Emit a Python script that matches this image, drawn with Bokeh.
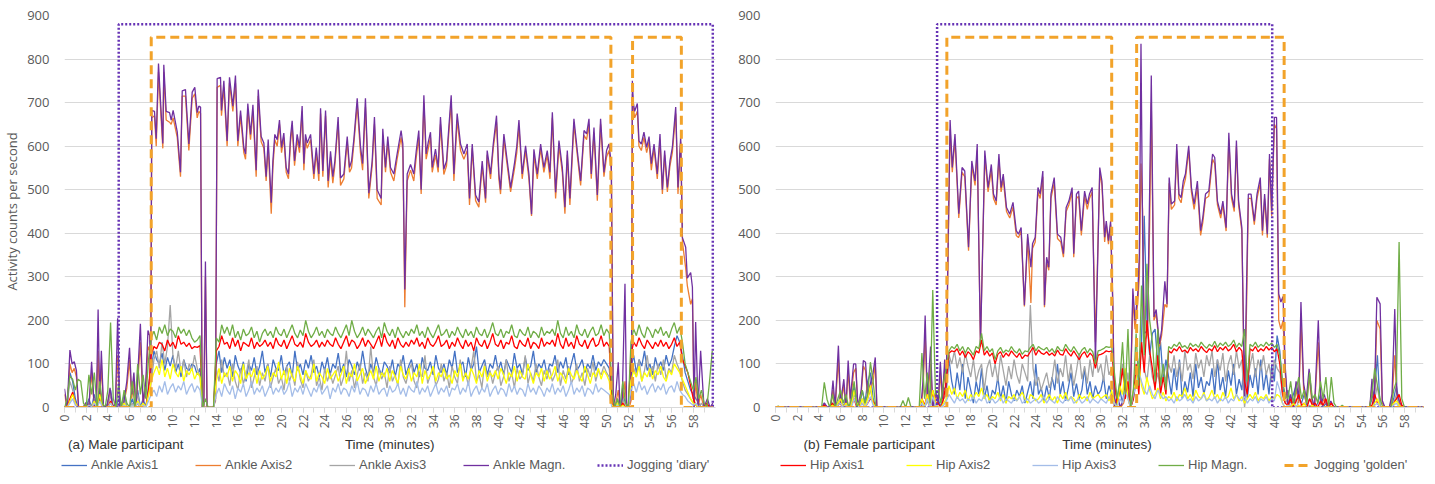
import math
from bokeh.plotting import figure
from bokeh.layouts import row, column
from bokeh.models import Range1d, FixedTicker, Legend, LegendItem
from bokeh.embed import file_html
from bokeh.resources import INLINE

# ---------------- time axis for the per-epoch series (minutes) ----------------
grid_t = [i * 0.25 for i in range(240)]

# ================= (a) MALE PARTICIPANT =================
male_magn_t = [
    0, 0.25, 0.5, 0.7, 0.9, 1.1, 1.3, 1.7, 2.0, 2.25,
    2.5, 2.75, 2.95, 3.1, 3.25, 3.4, 3.6, 3.9, 4.2, 4.45,
    4.7, 4.9, 5.1, 5.4, 5.75, 6.0, 6.2, 6.4, 6.6, 7.0,
    7.25, 7.5, 7.7, 7.85, 7.95,
    8.05, 8.3, 8.46, 8.67, 9.07, 9.16, 9.38, 9.69, 9.84, 10.02,
    10.4, 10.7, 10.86, 11.16, 11.47, 11.78, 12.02, 12.24, 12.39, 12.55,
    12.7, 12.85, 13.0, 13.15, 13.7, 13.93,
    14.08, 14.39, 14.48, 14.7, 15.0, 15.22, 15.53, 15.77, 15.99, 16.24,
    16.54, 16.7, 16.91, 17.16, 17.38, 17.68, 17.87, 18.14, 18.39, 18.6,
    18.79, 19.07, 19.22, 19.4, 19.62, 19.83, 20.02, 20.23, 20.45, 20.66,
    20.85, 21.0, 21.22, 21.46, 21.68, 21.92, 22.08, 22.23, 22.39, 22.7,
    23.0, 23.22, 23.46, 23.62, 23.83, 24.08, 24.32, 24.54, 24.75, 24.94,
    25.24, 25.46, 25.77, 26.08, 26.29, 26.48, 26.69, 27.0, 27.3, 27.5,
    27.76, 28.07, 28.38, 28.59, 28.84, 29.21, 29.36, 29.61, 29.82,
    30.07, 30.38, 30.68, 31.05, 31.21, 31.39, 31.61, 31.92, 32.22, 32.45,
    32.68, 32.9, 33.15, 33.36, 33.56, 33.76, 33.92, 34.22, 34.47, 34.68,
    34.99, 35.24, 35.45, 35.67, 35.92, 36.22, 36.53, 36.84, 37.15, 37.36,
    37.61, 37.92, 38.22, 38.53, 38.84, 38.99, 39.3, 39.55, 39.85, 40.07,
    40.22, 40.53, 40.84, 41.15, 41.52, 41.72, 41.92, 42.22, 42.53, 42.84,
    43.08, 43.3, 43.61, 43.92, 44.22, 44.53, 44.78, 45.0, 45.3, 45.61,
    45.92, 46.16, 46.38, 46.62, 46.99, 47.3, 47.61, 47.92, 48.16, 48.38,
    48.59, 48.84, 49.15, 49.45, 49.76, 50.0,
    50.22, 50.44, 50.62, 50.85, 51.08, 51.24, 51.45, 51.7, 51.85, 52.1,
    52.3, 52.38, 52.47, 52.59, 52.84, 52.99, 53.21, 53.45, 53.7, 53.92,
    54.13, 54.38, 54.68, 54.93, 55.15, 55.36, 55.61, 55.85, 56.07, 56.38,
    56.59, 56.84, 57.0, 57.3, 57.45, 57.76, 57.92, 58.07, 58.22, 58.44,
    58.68, 58.99, 59.3, 59.55, 59.8,
]
male_ankle_magn = [
    43, 0, 132, 100, 105, 85, 0, 0, 12, 0,
    105, 0, 20, 225, 15, 130, 0, 0, 45, 0,
    10, 205, 0, 0, 60, 137, 30, 80, 0, 192,
    10, 60, 177, 165, 60,
    682, 680, 617, 790, 606, 787, 680, 677, 660, 682,
    633, 540, 727, 730, 605, 724, 735, 677, 692, 690,
    0, 0, 335, 0, 0, 20,
    755, 758, 682, 750, 612, 758, 692, 762, 612, 682,
    597, 582, 698, 627, 695, 545, 730, 622, 607, 530,
    615, 470, 565, 627, 615, 660, 597, 630, 551, 536,
    622, 658, 566, 627, 597, 692, 560, 627, 607, 627,
    536, 597, 536, 687, 543, 682, 520, 588, 530, 566,
    667, 527, 536, 622, 551, 566, 615, 710, 600, 560,
    710, 492, 566, 667, 500, 480, 640, 551, 622,
    551, 536, 582, 636, 605, 271, 536, 558, 536, 590,
    636, 500, 717, 582, 610, 632, 551, 593, 551, 667,
    547, 566, 643, 717, 536, 675, 605, 582, 605, 480,
    605, 488, 472, 566, 480, 590, 536, 605, 670, 536,
    500, 628, 566, 505, 563, 600, 660, 536, 601, 536,
    444, 593, 536, 605, 551, 590, 540, 678, 494, 613,
    551, 460, 590, 480, 663, 590, 520, 636, 628, 663,
    536, 643, 488, 663, 540, 590,
    605, 560, 0, 30, 104, 0, 20, 284, 0, 10,
    40, 750, 700, 680, 698, 612, 605, 632, 597, 622,
    560, 605, 536, 628, 500, 590, 505, 566, 597, 690,
    505, 622, 390, 368, 297, 310, 276, 0, 196, 0,
    130, 0, 20, 0, 10,
]
male_ankle_axis2 = [
    30, 0, 100, 80, 90, 70, 0, 0, 8, 0,
    80, 0, 15, 130, 10, 100, 0, 0, 35, 0,
    8, 120, 0, 0, 45, 110, 20, 60, 0, 150,
    8, 45, 140, 130, 40,
    665, 670, 600, 770, 595, 770, 660, 655, 650, 665,
    620, 530, 715, 715, 590, 710, 720, 665, 680, 675,
    0, 0, 300, 0, 0, 15,
    735, 740, 670, 735, 600, 745, 680, 745, 600, 670,
    585, 570, 685, 615, 680, 530, 715, 610, 595, 520,
    600, 445, 550, 615, 600, 650, 585, 620, 540, 525,
    610, 645, 555, 615, 585, 680, 545, 615, 595, 615,
    525, 585, 520, 675, 530, 670, 505, 575, 515, 555,
    655, 510, 525, 610, 540, 550, 605, 695, 585, 545,
    690, 480, 555, 650, 480, 465, 625, 540, 610,
    540, 520, 570, 620, 590, 230, 520, 545, 520, 575,
    620, 490, 700, 570, 595, 620, 540, 580, 540, 650,
    535, 555, 630, 700, 520, 660, 590, 570, 590, 465,
    595, 475, 460, 555, 470, 580, 525, 595, 655, 525,
    490, 615, 555, 495, 550, 585, 645, 525, 590, 525,
    440, 580, 525, 595, 540, 580, 525, 665, 480, 600,
    540, 445, 580, 465, 650, 580, 510, 625, 615, 650,
    525, 630, 475, 650, 530, 575,
    590, 545, 0, 10, 40, 0, 5, 60, 0, 0,
    20, 720, 690, 665, 680, 600, 590, 620, 585, 610,
    545, 595, 525, 615, 490, 580, 495, 555, 585, 675,
    490, 610, 380, 320, 280, 237, 250, 0, 60, 0,
    30, 0, 5, 0, 0,
]
male_ankle_axis1 = [
    0, 10, 80, 60, 20, 0, 0, 0, 0, 20, 0, 30, 0, 40, 0, 0, 10, 40, 0, 0,
    20, 0, 30, 0, 0, 20, 0, 40, 0, 20, 0, 50, 90, 130, 110, 100, 125, 85, 115, 95,
    120, 80, 100, 70, 110, 90, 85, 100, 95, 75, 90, 0, 0, 0, 0, 0, 100, 130, 80, 115,
    90, 110, 70, 120, 95, 80, 105, 60, 100, 85, 115, 75, 95, 130, 80, 100, 70, 110, 90, 85,
    120, 75, 95, 105, 70, 130, 85, 100, 75, 110, 90, 120, 80, 95, 70, 105, 85, 115, 75, 100,
    90, 125, 80, 100, 70, 110, 95, 75, 105, 85, 130, 90, 70, 100, 80, 115, 90, 75, 105, 95,
    80, 110, 70, 100, 90, 120, 75, 95, 110, 80, 100, 70, 115, 90, 85, 105, 75, 120, 90, 80,
    100, 75, 110, 90, 130, 80, 95, 105, 70, 115, 85, 100, 140, 80, 95, 110, 75, 100, 90, 120,
    85, 105, 75, 110, 95, 80, 125, 90, 100, 75, 115, 85, 95, 130, 80, 100, 90, 110, 75, 100,
    95, 120, 80, 105, 90, 115, 75, 100, 125, 85, 95, 110, 80, 100, 90, 120, 85, 105, 95, 110,
    100, 90, 10, 0, 20, 0, 30, 10, 0, 90, 120, 80, 110, 95, 130, 85, 100, 75, 115, 90,
    105, 85, 120, 95, 110, 140, 165, 150, 120, 80, 60, 40, 30, 20, 10, 0, 5, 0, 0, 0,
]
male_ankle_axis3 = [
    0, 10, 60, 40, 10, 0, 0, 0, 0, 10, 0, 20, 0, 30, 0, 0, 0, 30, 0, 0,
    10, 0, 20, 0, 0, 10, 0, 30, 0, 10, 0, 30, 60, 110, 130, 90, 150, 100, 140, 235,
    120, 90, 130, 80, 110, 70, 100, 85, 120, 90, 70, 0, 0, 0, 0, 0, 90, 60, 110, 70,
    80, 50, 100, 60, 40, 90, 55, 75, 110, 45, 70, 95, 50, 80, 60, 100, 45, 70, 90, 55,
    70, 40, 95, 60, 80, 50, 105, 65, 45, 85, 60, 75, 110, 50, 70, 40, 90, 60, 80, 55,
    75, 95, 50, 70, 130, 60, 85, 45, 75, 100, 55, 80, 60, 140, 70, 50, 90, 65, 80, 45,
    95, 60, 75, 50, 110, 70, 55, 85, 100, 60, 45, 80, 70, 120, 55, 75, 90, 50, 65, 100,
    60, 80, 45, 95, 70, 55, 110, 65, 80, 50, 90, 130, 60, 75, 45, 100, 70, 85, 55, 80,
    95, 50, 70, 110, 60, 80, 45, 90, 65, 75, 120, 55, 80, 60, 100, 70, 50, 85, 65, 90,
    60, 75, 110, 50, 85, 65, 95, 55, 70, 100, 60, 80, 50, 90, 70, 105, 60, 85, 75, 95,
    80, 70, 10, 0, 15, 0, 20, 0, 0, 60, 90, 70, 110, 60, 85, 120, 70, 95, 60, 100,
    75, 110, 65, 90, 80, 120, 100, 85, 60, 40, 30, 20, 10, 5, 0, 10, 0, 0, 0, 0,
]
male_hip_axis1 = [
    0, 0, 20, 35, 10, 0, 0, 0, 0, 5, 0, 10, 0, 30, 0, 0, 0, 15, 0, 0,
    0, 0, 0, 0, 0, 0, 0, 10, 0, 0, 0, 40, 120, 140, 135, 150, 145, 130, 155, 140,
    150, 135, 165, 145, 150, 140, 148, 135, 140, 138, 142, 0, 0, 0, 0, 0, 130, 140, 165, 145,
    150, 135, 160, 140, 155, 130, 150, 145, 140, 160, 135, 150, 140, 145, 155, 140, 150, 135, 160, 145,
    140, 155, 135, 150, 165, 145, 140, 150, 138, 170, 150, 140, 145, 155, 138, 150, 140, 155, 145, 140,
    160, 145, 135, 150, 165, 140, 155, 150, 135, 145, 160, 140, 155, 145, 135, 150, 165, 140, 170, 150,
    140, 155, 135, 160, 145, 138, 150, 140, 155, 145, 160, 140, 150, 135, 160, 145, 140, 150, 165, 140,
    145, 155, 135, 150, 140, 160, 145, 135, 155, 140, 150, 130, 160, 145, 140, 155, 135, 150, 170, 145,
    140, 155, 135, 150, 145, 165, 140, 135, 155, 145, 140, 160, 135, 150, 145, 135, 160, 140, 150, 145,
    155, 140, 170, 145, 135, 160, 140, 150, 135, 165, 145, 140, 155, 135, 150, 160, 140, 145, 165, 140,
    150, 140, 10, 0, 5, 0, 10, 0, 0, 120, 150, 140, 160, 145, 135, 155, 145, 135, 150, 140,
    155, 140, 150, 135, 145, 160, 140, 150, 110, 95, 80, 50, 20, 5, 0, 0, 0, 10, 0, 0,
]
male_hip_axis2 = [
    0, 0, 15, 30, 10, 0, 0, 0, 0, 5, 0, 15, 0, 30, 0, 0, 0, 10, 0, 0,
    0, 0, 10, 0, 0, 5, 0, 15, 0, 10, 0, 30, 60, 80, 95, 75, 110, 70, 90, 65,
    100, 80, 70, 95, 60, 85, 75, 90, 65, 80, 70, 0, 0, 0, 0, 0, 60, 90, 55, 80,
    70, 95, 60, 85, 75, 55, 100, 65, 80, 70, 90, 55, 85, 65, 75, 95, 60, 80, 70, 105,
    65, 85, 55, 90, 70, 60, 95, 75, 55, 85, 70, 65, 100, 60, 80, 70, 55, 90, 65, 75,
    85, 60, 75, 95, 55, 80, 70, 100, 60, 75, 90, 55, 70, 85, 65, 95, 60, 80, 70, 90,
    60, 85, 70, 55, 95, 75, 65, 90, 60, 80, 70, 100, 55, 85, 65, 75, 95, 60, 80, 70,
    90, 65, 75, 55, 85, 70, 100, 60, 80, 65, 90, 75, 55, 85, 70, 95, 60, 80, 70, 85,
    65, 90, 75, 55, 80, 70, 95, 60, 85, 70, 65, 100, 75, 55, 80, 70, 90, 60, 85, 65,
    75, 95, 60, 80, 70, 55, 90, 75, 65, 85, 70, 60, 95, 75, 55, 80, 70, 90, 65, 85,
    75, 60, 5, 0, 10, 0, 5, 0, 0, 60, 85, 70, 95, 60, 80, 70, 90, 65, 85, 75,
    95, 70, 60, 85, 75, 100, 90, 80, 65, 50, 35, 20, 10, 5, 0, 0, 0, 0, 0, 0,
]
male_hip_axis3 = [
    0, 0, 10, 20, 5, 0, 0, 0, 0, 5, 0, 10, 0, 15, 0, 0, 0, 10, 0, 0,
    0, 0, 5, 0, 0, 5, 0, 10, 0, 5, 0, 15, 30, 40, 25, 50, 35, 60, 30, 45,
    55, 35, 50, 40, 60, 30, 45, 55, 35, 50, 40, 0, 0, 0, 0, 0, 30, 45, 25, 55,
    40, 30, 50, 20, 45, 35, 55, 25, 40, 60, 30, 45, 35, 50, 25, 40, 55, 30, 45, 35,
    50, 30, 40, 60, 25, 45, 35, 50, 30, 55, 40, 25, 45, 35, 55, 30, 40, 50, 20, 45,
    35, 55, 30, 45, 40, 25, 50, 35, 60, 30, 45, 40, 25, 50, 35, 55, 30, 40, 45, 25,
    50, 35, 40, 55, 30, 45, 25, 50, 40, 35, 60, 30, 45, 35, 50, 25, 40, 55, 30, 45,
    35, 50, 25, 45, 40, 55, 30, 45, 35, 60, 25, 40, 50, 30, 45, 35, 55, 25, 40, 50,
    30, 45, 40, 25, 55, 35, 50, 30, 45, 40, 25, 55, 35, 45, 30, 50, 40, 25, 45, 35,
    55, 30, 45, 35, 50, 25, 40, 60, 30, 45, 35, 50, 25, 45, 40, 30, 55, 35, 45, 40,
    35, 30, 0, 0, 5, 0, 0, 0, 0, 40, 55, 35, 60, 40, 50, 30, 45, 55, 35, 50,
    40, 55, 30, 45, 50, 35, 60, 40, 30, 25, 15, 10, 5, 10, 0, 0, 0, 0, 0, 0,
]
male_hip_magn = [
    0, 20, 72, 65, 40, 65, 60, 10, 0, 75, 30, 80, 0, 60, 10, 0, 40, 195, 20, 0,
    55, 0, 40, 10, 0, 60, 0, 100, 30, 75, 20, 110, 160, 175, 155, 185, 170, 190, 165, 180,
    175, 160, 185, 170, 180, 165, 178, 160, 150, 155, 165, 0, 20, 0, 0, 0, 160, 150, 190, 170,
    185, 165, 190, 160, 175, 155, 180, 165, 170, 185, 160, 175, 150, 170, 180, 165, 175, 160, 185, 170,
    165, 180, 160, 175, 190, 170, 160, 178, 165, 200, 175, 160, 170, 185, 165, 175, 160, 180, 170, 165,
    185, 170, 160, 175, 190, 165, 200, 175, 160, 170, 185, 165, 180, 170, 160, 175, 185, 160, 195, 175,
    165, 180, 160, 185, 170, 160, 175, 165, 180, 170, 190, 165, 175, 160, 185, 170, 160, 175, 190, 165,
    170, 180, 160, 175, 165, 185, 170, 160, 180, 165, 175, 160, 185, 170, 165, 180, 160, 175, 195, 170,
    165, 180, 160, 175, 170, 190, 165, 160, 180, 170, 165, 185, 160, 175, 170, 160, 185, 165, 175, 170,
    180, 165, 200, 170, 160, 185, 165, 175, 160, 190, 170, 165, 180, 160, 175, 185, 165, 170, 190, 165,
    180, 170, 40, 0, 20, 0, 60, 10, 0, 150, 180, 165, 190, 170, 160, 185, 175, 160, 180, 170,
    185, 165, 175, 160, 180, 195, 170, 185, 150, 100, 80, 60, 40, 70, 20, 40, 10, 0, 60, 130,
]
male_diary_t = [0, 5.0, 5.0, 59.8, 59.8]
male_diary = [0, 0, 880, 880, 0]
male_golden_t = [0, 8.0, 8.0, 50.4, 50.4, 52.4, 52.4, 56.9, 56.9, 59.8]
male_golden = [0, 0, 850, 850, 0, 0, 850, 850, 0, 0]

# ================= (b) FEMALE PARTICIPANT =================
female_magn_t = [
    0, 4.3, 4.5, 4.8, 5.1, 5.3, 5.5, 5.8, 6.0, 6.3,
    6.5, 6.7, 6.9, 7.2, 7.4, 7.6, 7.9, 8.1, 8.3, 8.5,
    8.8, 9.0, 9.2, 9.35, 13.4, 13.6, 13.8, 14.0, 14.3, 14.5,
    14.8, 15.0, 15.2, 15.4, 15.6, 15.75,
    15.85, 16.1, 16.3, 16.55, 16.9, 17.2, 17.45, 17.8, 18.1, 18.4,
    18.6, 18.9, 19.3, 19.6, 19.9, 20.1, 20.35, 20.6, 20.8, 21.0,
    21.3, 21.6, 21.9, 22.2, 22.4, 22.65, 22.95, 23.25, 23.55, 23.7,
    23.95, 24.2, 24.4, 24.65, 24.8, 25.0, 25.2, 25.4, 25.7, 26.0,
    26.3, 26.55, 26.8, 27.05, 27.35, 27.5, 27.75, 27.95, 28.2, 28.5,
    28.75, 28.95, 29.2, 29.5, 29.9, 30.1, 30.35, 30.5, 30.7, 30.9,
    31.1, 31.25,
    31.5, 31.8, 32.1, 32.4, 32.7, 32.95, 33.15, 33.4, 33.55, 33.7,
    33.85, 34.0, 34.3, 34.5, 34.65, 34.9, 35.1, 35.4, 35.6, 35.9,
    36.1, 36.3, 36.5, 36.8, 37.0, 37.2, 37.4, 37.6, 37.8, 38.1,
    38.35, 38.6, 38.9, 39.2, 39.4, 39.65, 39.95, 40.3, 40.5, 40.75,
    41.05, 41.25, 41.55, 41.8, 42.05, 42.3, 42.5, 42.7, 43.0, 43.25,
    43.45, 43.6, 43.85, 44.15, 44.4, 44.7, 44.9, 45.1, 45.35, 45.55,
    45.75, 46.0, 46.2, 46.4, 46.6, 46.8, 47.0, 47.25,
    47.5, 47.75, 48.0, 48.25, 48.45, 48.7, 48.95, 49.2, 49.45, 49.7,
    50.05, 50.3, 50.6, 50.9, 51.2, 51.5, 54.8, 55.0, 55.2, 55.45,
    55.75, 55.95, 56.2, 56.6, 56.85, 57.1, 57.3, 57.6, 57.9, 59.8,
]
female_ankle_magn = [
    0, 0, 10, 0, 5, 62, 0, 142, 10, 65,
    0, 108, 20, 100, 100, 0, 40, 108, 104, 30,
    60, 80, 115, 0, 0, 60, 211, 20, 140, 0,
    40, 10, 105, 20, 110, 30,
    269, 660, 551, 628, 445, 551, 543, 368, 566, 520,
    605, 140, 590, 505, 558, 490, 474, 582, 505, 536,
    459, 444, 471, 406, 398, 413, 235, 398, 322, 376,
    391, 505, 490, 543, 235, 345, 322, 490, 528, 398,
    391, 353, 459, 474, 505, 353, 490, 497, 406, 497,
    467, 490, 505, 107, 551, 520, 391, 428, 383, 428,
    242, 0,
    30, 0, 20, 50, 0, 273, 200, 260, 350, 835,
    400, 170, 177, 500, 762, 208, 225, 146, 177, 290,
    237, 528, 467, 474, 605, 490, 482, 520, 536, 601,
    505, 467, 520, 406, 436, 490, 497, 582, 574, 474,
    444, 474, 413, 631, 490, 459, 613, 474, 413, 20,
    300, 490, 490, 428, 490, 528, 406, 490, 398, 582,
    451, 666, 666, 261, 242, 255, 94, 0,
    30, 0, 60, 20, 242, 54, 20, 89, 24, 0,
    200, 8, 30, 0, 15, 0, 0, 66, 0, 253,
    238, 16, 0, 0, 31, 226, 31, 10, 0, 0,
]
female_ankle_axis2 = [
    0, 0, 5, 0, 0, 40, 0, 110, 5, 50,
    0, 85, 10, 80, 90, 0, 30, 95, 85, 20,
    45, 60, 100, 0, 0, 40, 170, 10, 100, 0,
    30, 5, 80, 10, 90, 20,
    250, 640, 540, 615, 435, 540, 530, 360, 555, 510,
    590, 150, 575, 495, 545, 480, 465, 570, 495, 525,
    450, 435, 460, 395, 390, 405, 232, 390, 240, 365,
    380, 495, 480, 530, 230, 335, 315, 480, 515, 388,
    380, 345, 450, 465, 495, 345, 480, 485, 395, 485,
    455, 480, 495, 150, 540, 510, 380, 420, 375, 420,
    235, 0,
    20, 0, 10, 40, 0, 250, 180, 240, 300, 560,
    450, 150, 170, 420, 700, 200, 215, 140, 165, 237,
    230, 515, 455, 465, 590, 480, 470, 505, 525, 590,
    495, 455, 505, 395, 425, 480, 485, 570, 560, 465,
    435, 465, 405, 615, 480, 450, 600, 465, 405, 10,
    250, 480, 480, 420, 480, 515, 395, 480, 390, 570,
    440, 650, 640, 200, 180, 200, 80, 0,
    20, 0, 40, 10, 200, 40, 10, 70, 15, 0,
    150, 5, 20, 0, 10, 0, 0, 50, 0, 200,
    180, 10, 0, 0, 20, 120, 20, 5, 0, 0,
]
female_ankle_axis1 = [
    0, 0, 0, 0, 0, 0, 0, 0, 0, 0, 0, 0, 0, 0, 0, 0, 0, 0, 10, 0,
    0, 10, 0, 5, 30, 0, 20, 0, 10, 50, 20, 0, 40, 10, 60, 80, 20, 0, 0, 0,
    0, 0, 0, 0, 0, 0, 0, 0, 0, 0, 0, 0, 0, 0, 10, 0, 20, 0, 30, 0,
    20, 0, 40, 50, 110, 60, 30, 80, 40, 100, 20, 70, 40, 10, 60, 30, 90, 20, 50, 10,
    40, 30, 70, 20, 50, 10, 60, 30, 15, 40, 25, 50, 10, 35, 60, 20, 100, 30, 45, 15,
    50, 20, 70, 40, 100, 30, 60, 15, 45, 80, 25, 55, 20, 40, 90, 30, 60, 20, 50, 30,
    40, 70, 20, 50, 30, 20, 5, 40, 10, 60, 30, 0, 20, 60, 100, 150, 440, 200, 120, 170,
    180, 100, 150, 60, 110, 70, 30, 90, 40, 110, 20, 60, 35, 80, 25, 100, 45, 70, 30, 60,
    50, 90, 30, 110, 40, 70, 25, 85, 50, 100, 30, 65, 40, 120, 20, 75, 45, 90, 30, 110,
    40, 80, 30, 95, 60, 165, 130, 50, 20, 40, 10, 30, 50, 20, 10, 30, 5, 20, 10, 0,
    10, 30, 0, 10, 0, 0, 0, 0, 0, 0, 0, 0, 0, 0, 0, 0, 0, 0, 0, 0,
    20, 40, 120, 0, 0, 0, 0, 0, 20, 50, 10, 0, 0, 0, 0, 0, 0, 0, 0, 0,
]
female_ankle_axis3 = [
    0, 0, 0, 0, 0, 0, 0, 0, 0, 0, 0, 0, 0, 0, 0, 0, 0, 0, 10, 0,
    0, 10, 0, 10, 20, 0, 15, 0, 10, 30, 10, 0, 20, 5, 30, 40, 10, 0, 0, 0,
    0, 0, 0, 0, 0, 0, 0, 0, 0, 0, 0, 0, 0, 0, 10, 0, 15, 0, 20, 0,
    10, 0, 20, 30, 120, 100, 130, 90, 115, 80, 125, 95, 70, 110, 60, 85, 100, 40, 90, 110,
    70, 100, 60, 120, 85, 50, 95, 65, 110, 75, 55, 100, 80, 60, 235, 90, 50, 70, 40, 60,
    80, 45, 65, 110, 55, 90, 70, 120, 60, 100, 50, 85, 125, 65, 95, 55, 110, 70, 130, 80,
    100, 60, 120, 75, 90, 40, 20, 60, 100, 30, 80, 10, 40, 90, 50, 150, 90, 60, 120, 70,
    50, 80, 40, 90, 60, 100, 80, 120, 70, 105, 60, 130, 85, 100, 65, 125, 90, 110, 70, 120,
    95, 130, 70, 110, 85, 125, 60, 100, 120, 75, 130, 90, 110, 0, 60, 95, 125, 70, 110, 85,
    120, 75, 100, 60, 110, 90, 80, 30, 10, 20, 0, 10, 20, 0, 5, 10, 0, 5, 0, 0,
    0, 0, 0, 0, 0, 0, 0, 0, 0, 0, 0, 0, 0, 0, 0, 0, 0, 0, 0, 0,
    0, 20, 50, 0, 0, 0, 0, 0, 10, 30, 0, 0, 0, 0, 0, 0, 0, 0, 0, 0,
]
female_hip_axis1 = [
    0, 0, 0, 0, 0, 0, 0, 0, 0, 0, 0, 0, 0, 0, 0, 0, 0, 0, 5, 0,
    0, 10, 0, 5, 10, 0, 10, 0, 5, 20, 0, 5, 10, 0, 10, 20, 15, 0, 0, 0,
    0, 0, 0, 0, 0, 0, 0, 0, 0, 0, 0, 0, 0, 0, 20, 5, 30, 0, 40, 10,
    10, 0, 20, 60, 125, 130, 128, 135, 120, 130, 115, 128, 122, 110, 130, 125, 155, 120, 130, 118,
    125, 100, 122, 128, 115, 125, 118, 130, 122, 115, 125, 112, 120, 118, 128, 138, 120, 132, 125, 122,
    128, 120, 125, 118, 132, 122, 120, 135, 125, 118, 130, 120, 110, 122, 128, 115, 125, 118, 90, 120,
    122, 125, 130, 128, 130, 60, 10, 40, 90, 20, 60, 0, 20, 100, 30, 150, 80, 200, 130, 90,
    40, 120, 30, 70, 30, 130, 125, 135, 130, 140, 128, 132, 125, 138, 130, 135, 128, 140, 132, 126,
    135, 130, 142, 128, 138, 132, 140, 130, 135, 145, 128, 138, 130, 60, 30, 135, 130, 140, 128, 135,
    130, 140, 132, 138, 128, 135, 100, 30, 10, 5, 20, 0, 15, 30, 5, 10, 0, 20, 5, 10,
    0, 15, 5, 20, 0, 10, 0, 0, 0, 0, 0, 0, 0, 0, 0, 0, 0, 0, 0, 0,
    5, 30, 10, 0, 0, 0, 0, 0, 10, 20, 30, 5, 0, 0, 0, 0, 0, 0, 0, 0,
]
female_hip_axis2 = [
    0, 0, 0, 0, 0, 0, 0, 0, 0, 0, 0, 0, 0, 0, 0, 0, 0, 0, 0, 0,
    0, 5, 0, 10, 20, 0, 10, 0, 5, 40, 10, 0, 20, 0, 20, 50, 10, 0, 0, 0,
    0, 0, 0, 0, 0, 0, 0, 0, 0, 0, 0, 0, 0, 0, 20, 0, 30, 0, 40, 10,
    0, 0, 10, 20, 50, 30, 45, 20, 35, 25, 40, 15, 30, 20, 35, 25, 45, 20, 30, 15,
    25, 20, 35, 15, 30, 10, 25, 20, 30, 15, 25, 35, 20, 10, 30, 25, 15, 20, 30, 10,
    20, 30, 15, 25, 10, 30, 20, 35, 15, 25, 20, 10, 30, 20, 25, 15, 35, 20, 25, 30,
    20, 25, 30, 15, 40, 10, 0, 50, 30, 90, 20, 0, 40, 60, 100, 50, 30, 70, 40, 20,
    30, 45, 20, 35, 15, 25, 20, 35, 15, 30, 25, 45, 20, 30, 15, 40, 25, 20, 35, 15,
    25, 40, 20, 30, 15, 35, 20, 25, 45, 20, 30, 15, 25, 10, 20, 30, 20, 35, 15, 25,
    20, 30, 15, 25, 20, 30, 25, 10, 0, 5, 0, 10, 0, 5, 0, 10, 0, 0, 5, 0,
    0, 0, 0, 0, 0, 0, 0, 0, 0, 0, 0, 0, 0, 0, 0, 0, 0, 0, 0, 0,
    0, 10, 20, 0, 0, 0, 0, 0, 10, 15, 5, 0, 0, 0, 0, 0, 0, 0, 0, 0,
]
female_hip_axis3 = [
    0, 0, 0, 0, 0, 0, 0, 0, 0, 0, 0, 0, 0, 0, 0, 0, 0, 0, 0, 0,
    0, 0, 0, 5, 10, 0, 5, 0, 0, 20, 5, 0, 10, 0, 10, 25, 5, 0, 0, 0,
    0, 0, 0, 0, 0, 0, 0, 0, 0, 0, 0, 0, 0, 0, 10, 0, 20, 0, 25, 5,
    0, 0, 5, 15, 30, 20, 10, 25, 15, 20, 10, 20, 15, 25, 10, 20, 15, 30, 10, 15,
    20, 10, 15, 25, 10, 20, 15, 10, 20, 15, 25, 10, 15, 20, 10, 15, 20, 10, 15, 25,
    10, 20, 15, 10, 25, 15, 10, 20, 15, 25, 10, 15, 20, 10, 15, 25, 10, 20, 15, 10,
    20, 15, 10, 25, 15, 10, 0, 20, 10, 40, 20, 0, 30, 50, 80, 60, 40, 30, 50, 30,
    20, 40, 30, 20, 25, 15, 20, 10, 25, 15, 20, 30, 15, 20, 10, 25, 15, 20, 30, 15,
    20, 15, 25, 10, 20, 15, 25, 10, 20, 15, 30, 20, 15, 25, 10, 20, 15, 25, 10, 20,
    15, 25, 10, 20, 15, 60, 40, 10, 0, 5, 0, 0, 5, 0, 0, 0, 0, 0, 0, 0,
    0, 0, 0, 0, 0, 0, 0, 0, 0, 0, 0, 0, 0, 0, 0, 0, 0, 0, 0, 0,
    0, 5, 10, 0, 0, 0, 0, 0, 5, 10, 0, 0, 0, 0, 0, 0, 0, 0, 0, 0,
]
female_hip_magn = [
    0, 3, 0, 0, 0, 0, 0, 0, 0, 0, 0, 0, 0, 0, 0, 0, 0, 0, 58, 19,
    0, 30, 0, 20, 40, 10, 30, 0, 20, 60, 0, 15, 40, 10, 30, 104, 60, 0, 0, 0,
    0, 0, 0, 0, 0, 0, 0, 16, 0, 23, 0, 0, 0, 0, 125, 20, 80, 10, 270, 30,
    40, 10, 60, 90, 130, 140, 135, 145, 130, 140, 125, 138, 130, 120, 140, 135, 170, 130, 140, 128,
    135, 110, 130, 138, 125, 132, 128, 140, 130, 125, 135, 122, 130, 128, 138, 145, 130, 140, 135, 132,
    138, 128, 135, 125, 140, 132, 130, 145, 135, 128, 140, 130, 120, 132, 138, 125, 135, 128, 100, 130,
    132, 135, 140, 138, 140, 80, 20, 60, 150, 30, 180, 0, 40, 170, 50, 280, 120, 330, 200, 150,
    60, 180, 50, 100, 40, 140, 135, 145, 140, 150, 138, 142, 135, 148, 140, 145, 138, 150, 142, 136,
    145, 140, 152, 138, 148, 142, 150, 140, 145, 155, 138, 148, 140, 180, 60, 145, 140, 150, 138, 145,
    140, 150, 142, 148, 138, 145, 120, 60, 30, 20, 60, 10, 40, 70, 20, 40, 10, 80, 20, 30,
    10, 60, 20, 70, 0, 70, 10, 0, 0, 5, 0, 0, 0, 0, 0, 0, 0, 0, 0, 0,
    30, 90, 50, 20, 0, 0, 0, 0, 40, 60, 380, 20, 0, 0, 0, 0, 0, 0, 0, 0,
]
female_diary_t = [0, 14.9, 14.9, 45.8, 45.8, 59.8]
female_diary = [0, 0, 880, 880, 0, 0]
female_golden_t = [0, 15.8, 15.8, 31.0, 31.0, 33.3, 33.3, 46.9, 46.9, 59.8]
female_golden = [0, 0, 850, 850, 0, 0, 850, 850, 0, 0]

y_ticks = [0, 100, 200, 300, 400, 500, 600, 700, 800, 900]
x_ticks = [0, 2, 4, 6, 8, 10, 12, 14, 16, 18, 20, 22, 24, 26, 28, 30, 32, 34, 36, 38,
           40, 42, 44, 46, 48, 50, 52, 54, 56, 58]
x_minor = list(range(0, 60))

STYLE = {
    "Ankle Axis1": dict(line_color="#4472C4", line_width=1.3),
    "Ankle Axis2": dict(line_color="#ED7D31", line_width=1.3),
    "Ankle Axis3": dict(line_color="#A5A5A5", line_width=1.3),
    "Ankle Magn.": dict(line_color="#7030A0", line_width=1.3),
    "Hip Axis1": dict(line_color="#FF0000", line_width=1.3),
    "Hip Axis2": dict(line_color="#FFFF00", line_width=1.3),
    "Hip Axis3": dict(line_color="#A4BDE8", line_width=1.3),
    "Hip Magn.": dict(line_color="#70AD47", line_width=1.3),
    "Jogging 'diary'": dict(line_color="#6633B5", line_width=2.5, line_dash="2 2"),
    "Jogging 'golden'": dict(line_color="#F2A32A", line_width=3, line_dash="9 5"),
}

for arr in [male_ankle_axis1, male_ankle_axis3, male_hip_axis1, male_hip_axis2, male_hip_axis3,
            male_hip_magn, female_ankle_axis1, female_ankle_axis3, female_hip_axis1,
            female_hip_axis2, female_hip_axis3, female_hip_magn]:
    if len(arr) != len(grid_t):
        raise SystemExit("grid series length %d" % len(arr))

TICK_FONT = "Open Sans"
TEXT_FONT = "Liberation Sans"
NB = "\u00a0"


def make_panel(width, min_left, min_right, x_end, d, xlabel, ylabel):
    p = figure(width=width, height=455, x_range=Range1d(0, x_end), y_range=Range1d(0, 900),
               output_backend="svg", toolbar_location=None,
               min_border_left=min_left, min_border_right=min_right,
               min_border_top=15, min_border_bottom=48)
    p.outline_line_color = None
    p.xgrid.grid_line_color = None
    p.ygrid.grid_line_color = "#d9d9d9"
    p.ygrid.ticker = FixedTicker(ticks=y_ticks)

    p.yaxis.ticker = FixedTicker(ticks=y_ticks)
    p.yaxis.axis_line_color = None
    p.yaxis.major_tick_line_color = None
    p.yaxis.minor_tick_line_color = None
    p.yaxis.major_label_text_font = TICK_FONT
    p.yaxis.major_label_text_font_size = "13px"
    p.yaxis.major_label_text_color = "#595959"
    p.yaxis.major_label_standoff = 9
    if ylabel:
        p.yaxis.axis_label = ylabel
        p.yaxis.axis_label_text_font = TICK_FONT
        p.yaxis.axis_label_text_font_size = "13px"
        p.yaxis.axis_label_text_font_style = "normal"
        p.yaxis.axis_label_text_color = "#595959"
        p.yaxis.axis_label_standoff = 3

    p.xaxis.ticker = FixedTicker(ticks=x_ticks, minor_ticks=x_minor)
    p.xaxis.axis_line_color = "#d9d9d9"
    p.xaxis.major_tick_line_color = "#d9d9d9"
    p.xaxis.minor_tick_line_color = "#d9d9d9"
    p.xaxis.major_tick_in = 0
    p.xaxis.major_tick_out = 5
    p.xaxis.minor_tick_in = 0
    p.xaxis.minor_tick_out = 5
    p.xaxis.major_label_orientation = math.pi / 2
    p.xaxis.major_label_text_font = TICK_FONT
    p.xaxis.major_label_text_font_size = "12px"
    p.xaxis.major_label_text_color = "#595959"
    p.xaxis.major_label_standoff = 2
    # panel tag and axis title share one line, as in the original figure
    p.xaxis.axis_label = xlabel
    p.xaxis.axis_label_text_font = TEXT_FONT
    p.xaxis.axis_label_text_font_size = "13.5px"
    p.xaxis.axis_label_text_font_style = "normal"
    p.xaxis.axis_label_text_color = "#333333"
    p.xaxis.axis_label_standoff = 6

    p.line(grid_t, d["a1"], **STYLE["Ankle Axis1"])
    p.line(d["mt"], d["a2"], **STYLE["Ankle Axis2"])
    p.line(grid_t, d["a3"], **STYLE["Ankle Axis3"])
    p.line(d["mt"], d["am"], **STYLE["Ankle Magn."])
    p.line(grid_t, d["h1"], **STYLE["Hip Axis1"])
    p.line(grid_t, d["h2"], **STYLE["Hip Axis2"])
    p.line(grid_t, d["h3"], **STYLE["Hip Axis3"])
    p.line(grid_t, d["hm"], **STYLE["Hip Magn."])
    p.line(d["dt"], d["dv"], **STYLE["Jogging 'diary'"])
    p.line(d["gt"], d["gv"], **STYLE["Jogging 'golden'"])
    return p


def make_legend_strip(width, names, x0, spacing, label_w):
    lf = figure(width=width, height=29, x_range=Range1d(0, 1), y_range=Range1d(0, 1),
                output_backend="svg", toolbar_location=None, min_border=0,
                x_axis_location=None, y_axis_location=None)
    lf.outline_line_color = None
    lf.grid.visible = False
    items = []
    for n in names:
        # key swatch only: a single point outside the strip's range draws nothing itself
        rr = lf.line([5], [5], **STYLE[n])
        items.append(LegendItem(label=n, renderers=[rr]))
    leg = Legend(items=items, orientation="horizontal", location=(x0, 12),
                 label_text_font=TEXT_FONT, label_text_font_size="13px",
                 label_text_color="#595959", glyph_width=26, glyph_height=14,
                 label_standoff=4, spacing=spacing, label_width=label_w, label_height=14,
                 padding=2, margin=0, border_line_color=None, background_fill_alpha=0)
    lf.add_layout(leg)
    return lf


male = dict(mt=male_magn_t, am=male_ankle_magn, a2=male_ankle_axis2, a1=male_ankle_axis1,
            a3=male_ankle_axis3, h1=male_hip_axis1, h2=male_hip_axis2, h3=male_hip_axis3,
            hm=male_hip_magn, dt=male_diary_t, dv=male_diary, gt=male_golden_t, gv=male_golden)
female = dict(mt=female_magn_t, am=female_ankle_magn, a2=female_ankle_axis2,
              a1=female_ankle_axis1, a3=female_ankle_axis3, h1=female_hip_axis1,
              h2=female_hip_axis2, h3=female_hip_axis3, hm=female_hip_magn,
              dt=female_diary_t, dv=female_diary, gt=female_golden_t, gv=female_golden)

male_xlabel = "(a) Male participant" + NB * 43 + "Time (minutes)" + NB * 74
female_xlabel = "(b) Female participant" + NB * 34 + "Time (minutes)" + NB * 65

p1 = make_panel(720, 64, 5, 60.05, male, male_xlabel, "Activity counts per second")
p2 = make_panel(715, 55, 12, 59.75, female, female_xlabel, None)

l1 = make_legend_strip(720, ["Ankle Axis1", "Ankle Axis2", "Ankle Axis3", "Ankle Magn.",
                             "Jogging 'diary'"], 61, 4, 100)
l2 = make_legend_strip(715, ["Hip Axis1", "Hip Axis2", "Hip Axis3", "Hip Magn.",
                             "Jogging 'golden'"], 60, 4, 92)

layout = column(row(p1, p2), row(l1, l2))
open("out.html", "w").write(file_html(layout, INLINE))
